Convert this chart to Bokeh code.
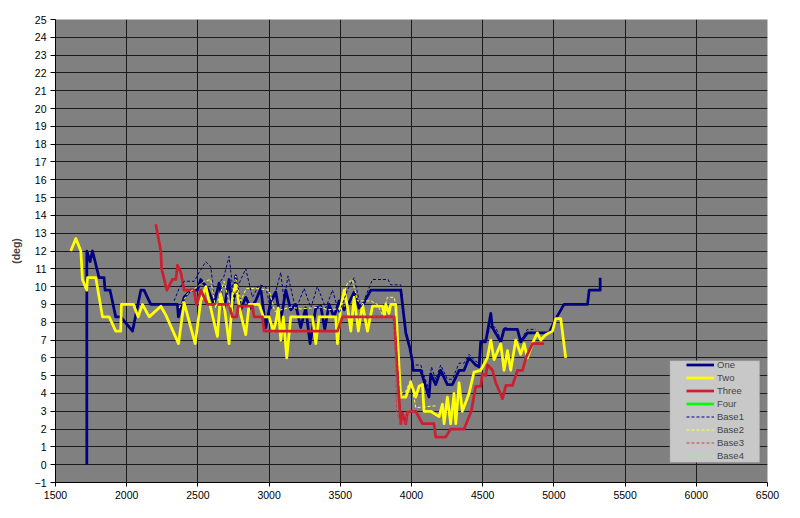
from bokeh.plotting import figure
from bokeh.models import Legend, LegendItem, BoxAnnotation, FixedTicker, ColumnDataSource, Range1d
from bokeh.embed import file_html
from bokeh.resources import INLINE

# ---- data (x = rpm-like value, y = deg) ----
one = [(1720, 0), (1720, 12), (1743, 11.4), (1760, 12), (1806, 10.5), (1841, 10.5), (1848, 9.8),
       (1883, 9.8), (1923, 8.3), (1958, 8.3), (2041, 7.5), (2099, 9.8), (2122, 9.8), (2169, 9.0),
       (2356, 9.0), (2363, 8.3), (2403, 9.4), (2450, 9.8), (2497, 9.8), (2520, 10.4), (2567, 9.9),
       (2614, 9.0), (2649, 10.2), (2684, 8.7), (2719, 10.4), (2742, 8.8), (2766, 10.6), (2801, 8.7),
       (2836, 9.4), (2871, 8.8), (2906, 9.2), (2941, 9.9), (2977, 7.7), (3012, 9.2), (3047, 9.7),
       (3082, 8.1), (3117, 9.8), (3152, 8.7), (3187, 9.0), (3222, 7.7), (3257, 8.8), (3288, 6.8),
       (3328, 8.8), (3363, 8.9), (3391, 7.6), (3421, 9.0), (3456, 8.3), (3492, 9.2), (3527, 8.7),
       (3562, 9.1), (3597, 9.7), (3632, 8.8), (3667, 9.1), (3714, 9.8), (3925, 9.8), (3960, 7.4),
       (3990, 6.5), (4006, 5.8), (4012, 5.3), (4065, 5.3), (4088, 4.7), (4123, 3.8), (4135, 5.1),
       (4170, 4.5), (4205, 5.3), (4252, 4.5), (4287, 4.5), (4334, 5.3), (4369, 5.3), (4404, 6.0),
       (4451, 5.6), (4475, 5.5), (4486, 6.9), (4521, 6.9), (4557, 8.5), (4568, 7.7), (4627, 6.9),
       (4650, 7.6), (4744, 7.6), (4767, 6.9), (4814, 7.4), (4966, 7.4), (5014, 8.2), (5071, 9.0),
       (5236, 9.0), (5248, 9.8), (5325, 9.8), (5325, 10.5)]

two = [(1607, 12.0), (1643, 12.7), (1678, 12.0), (1689, 10.4), (1720, 9.8), (1725, 10.5),
       (1783, 10.5), (1830, 8.3), (1877, 8.3), (1923, 7.5), (1958, 7.5), (1963, 9.0), (2048, 9.0),
       (2080, 8.3), (2111, 9.0), (2158, 8.3), (2240, 8.9), (2275, 8.4), (2364, 6.8), (2403, 9.1),
       (2440, 8.0), (2481, 6.8), (2520, 9.2), (2556, 10.0), (2590, 8.8), (2637, 7.2), (2660, 9.6),
       (2690, 8.6), (2719, 6.8), (2745, 9.6), (2766, 10.1), (2800, 8.5), (2836, 7.3), (2860, 9.0),
       (2930, 9.0), (2960, 8.3), (3000, 8.3), (3030, 7.5), (3047, 8.0), (3065, 8.8), (3082, 7.0),
       (3100, 8.3), (3124, 6.0), (3152, 8.3), (3305, 8.3), (3328, 6.8), (3351, 8.3), (3468, 8.3),
       (3480, 6.8), (3503, 8.8), (3527, 9.8), (3550, 8.9), (3574, 7.5), (3597, 9.4), (3627, 7.5),
       (3656, 9.0), (3691, 7.5), (3726, 8.9), (3796, 8.9), (3810, 8.4), (3819, 9.0), (3842, 8.5),
       (3854, 9.0), (3889, 9.0), (3924, 3.8), (3960, 3.8), (3995, 4.6), (4030, 3.8), (4053, 4.4),
       (4077, 4.5), (4088, 3.0), (4135, 3.0), (4194, 2.7), (4217, 3.4), (4229, 2.3), (4252, 3.8),
       (4275, 2.3), (4299, 4.0), (4311, 2.3), (4334, 4.6), (4357, 3.0), (4404, 4.0), (4439, 5.2),
       (4486, 5.3), (4533, 6.0), (4557, 7.0), (4580, 5.9), (4627, 6.8), (4650, 5.3), (4674, 6.4),
       (4697, 5.3), (4732, 7.0), (4767, 6.2), (4791, 6.8), (4814, 6.0), (4849, 6.8), (4884, 7.4),
       (4908, 7.0), (4943, 7.3), (4990, 7.5), (5013, 8.2), (5048, 8.2), (5083, 6.0)]

three = [(2204, 13.5), (2240, 12.0), (2245, 11.0), (2282, 9.8), (2321, 10.4), (2345, 10.4),
         (2357, 11.2), (2380, 10.8), (2403, 9.8), (2473, 9.8), (2490, 9.0), (2520, 9.8),
         (2567, 9.0), (2719, 9.0), (2742, 8.3), (2773, 8.3), (2782, 8.9), (2883, 8.9), (2895, 8.3),
         (2953, 8.3), (2965, 7.5), (3480, 7.5), (3515, 8.3), (3878, 8.3), (3924, 2.3), (3936, 2.9),
         (3960, 2.3), (3971, 2.95), (4006, 3.0), (4030, 3.0), (4077, 2.3), (4158, 2.3), (4170, 1.55),
         (4240, 1.55), (4275, 2.0), (4369, 2.0), (4420, 3.0), (4451, 4.4), (4486, 4.4), (4498, 5.1),
         (4522, 5.0), (4534, 5.6), (4569, 5.3), (4592, 4.6), (4639, 3.7), (4663, 4.45), (4709, 4.45),
         (4745, 5.3), (4780, 5.3), (4803, 6.0), (4838, 6.6), (4850, 6.8), (4931, 6.8)]

four = [(float("nan"), float("nan"))]

base1 = [(2333, 9.2), (2368, 9.9), (2403, 10.3), (2474, 10.3), (2509, 10.8), (2556, 11.4),
         (2591, 11.1), (2614, 9.4), (2660, 10.3), (2684, 10.6), (2719, 11.7), (2754, 9.2),
         (2796, 10.3), (2836, 11.0), (2883, 9.4), (2930, 10.1), (2976, 10.0), (3012, 8.7),
         (3082, 10.8), (3105, 9.2), (3133, 10.6), (3187, 8.7), (3246, 9.9), (3293, 8.8),
         (3339, 10.0), (3398, 8.8), (3445, 9.8), (3492, 8.5), (3550, 9.8), (3597, 10.5),
         (3644, 8.8), (3726, 10.4), (3836, 10.4), (3854, 10.1), (3925, 10.1), (3960, 7.5),
         (4007, 6.0), (4012, 5.6), (4065, 5.6), (4088, 5.0), (4123, 4.2), (4140, 5.5), (4170, 4.8),
         (4205, 5.6), (4252, 4.8), (4287, 4.8), (4334, 5.7), (4369, 5.7), (4404, 6.2), (4451, 5.8),
         (4475, 5.7), (4486, 7.0), (4521, 7.0), (4557, 7.8), (4592, 7.7), (4627, 7.0), (4650, 7.7),
         (4744, 7.6), (4767, 7.0), (4814, 7.6), (4873, 7.6)]

base2 = [(2368, 8.8), (2427, 9.6), (2497, 10.0), (2544, 10.3), (2590, 10.4), (2625, 8.8),
         (2684, 10.3), (2731, 8.8), (2766, 10.6), (2801, 9.2), (2840, 9.9), (2906, 9.9),
         (3000, 9.8), (3040, 8.6), (3152, 8.85), (3222, 8.75), (3363, 8.85), (3410, 8.7),
         (3492, 8.75), (3550, 10.2), (3585, 10.4), (3620, 9.2), (3714, 9.2), (3760, 9.0),
         (3796, 8.4), (3831, 9.4), (3878, 9.4), (3889, 9.0), (3924, 4.0), (3960, 4.1),
         (3995, 4.8), (4030, 3.2), (4158, 3.3), (4180, 3.3)]

base3 = [(3480, 7.5), (3515, 8.3), (3882, 8.3), (3895, 3.0), (3924, 2.3), (3960, 2.3),
         (3971, 2.95), (4006, 3.0), (4030, 3.0)]

base4 = [(float("nan"), float("nan"))]

x_ticks = [1500, 2000, 2500, 3000, 3500, 4000, 4500, 5000, 5500, 6000, 6500]
y_ticks = list(range(-1, 26))

names = ["One", "Two", "Three", "Four", "Base1", "Base2", "Base3", "Base4"]
series = [one, two, three, four, base1, base2, base3, base4]
colors = ["#000080", "#ffff00", "#cc2030", "#00ff00", "#000080", "#ffff40", "#c84040", "#80ff80"]
widths = [2.75, 2.75, 2.75, 2.75, 1, 1, 1, 1]
dashes = ["solid", "solid", "solid", "solid", "3 2", "3 2", "3 2", "3 2"]

FONT = "Liberation Sans"

p = figure(frame_width=712, frame_height=463, output_backend="svg", toolbar_location=None,
           x_range=Range1d(1500, 6500), y_range=Range1d(-1, 25),
           min_border_left=55, min_border_right=33, min_border_top=19, min_border_bottom=36)
p.background_fill_color = "#808080"
p.border_fill_color = "white"
p.outline_line_color = None

p.xaxis.ticker = FixedTicker(ticks=x_ticks)
p.yaxis.ticker = FixedTicker(ticks=y_ticks)
p.xgrid.ticker = FixedTicker(ticks=x_ticks)
p.ygrid.ticker = FixedTicker(ticks=y_ticks)
for g in (p.xgrid, p.ygrid):
    g.grid_line_color = "#1a1a1a"
    g.grid_line_width = 1

for ax in (p.xaxis, p.yaxis):
    ax.axis_line_color = "black"
    ax.major_tick_line_color = "black"
    ax.minor_tick_line_color = None
    ax.major_tick_in = 0
    ax.major_label_text_font = FONT
    ax.major_label_text_font_size = "10.5px"
    ax.major_label_text_color = "black"
p.yaxis.major_tick_out = 5
p.xaxis.major_tick_out = 4
p.yaxis.major_label_standoff = 4
p.xaxis.major_label_standoff = 4
p.yaxis.axis_label = "(deg)"
p.yaxis.axis_label_text_font = FONT
p.yaxis.axis_label_text_font_style = "bold"
p.yaxis.axis_label_text_font_size = "10.5px"
p.yaxis.axis_label_standoff = 10

renderers = {}
for i in range(8):
    pts = series[i]
    src = ColumnDataSource(dict(x=[a for a, b in pts], y=[b for a, b in pts]))
    r = p.line("x", "y", source=src, line_color=colors[i], line_width=widths[i],
               line_dash=dashes[i], line_join="round")
    renderers[i] = r

# legend frame
frame = BoxAnnotation(left=5814, right=6446, bottom=0.13, top=5.85,
                      fill_color="#c8c8c8", fill_alpha=1, line_color="#707070", line_width=1,
                      level="annotation")
p.add_layout(frame)

legend = Legend(items=[LegendItem(label=names[i], renderers=[renderers[i]]) for i in range(8)],
                location=(631, 21), padding=0, margin=0, spacing=2, label_height=11, glyph_height=11,
                glyph_width=28, label_standoff=3, label_text_font=FONT, label_text_font_size="9.5px",
                background_fill_alpha=0, border_line_alpha=0)
p.add_layout(legend)

open("out.html", "w").write(file_html(p, INLINE))
